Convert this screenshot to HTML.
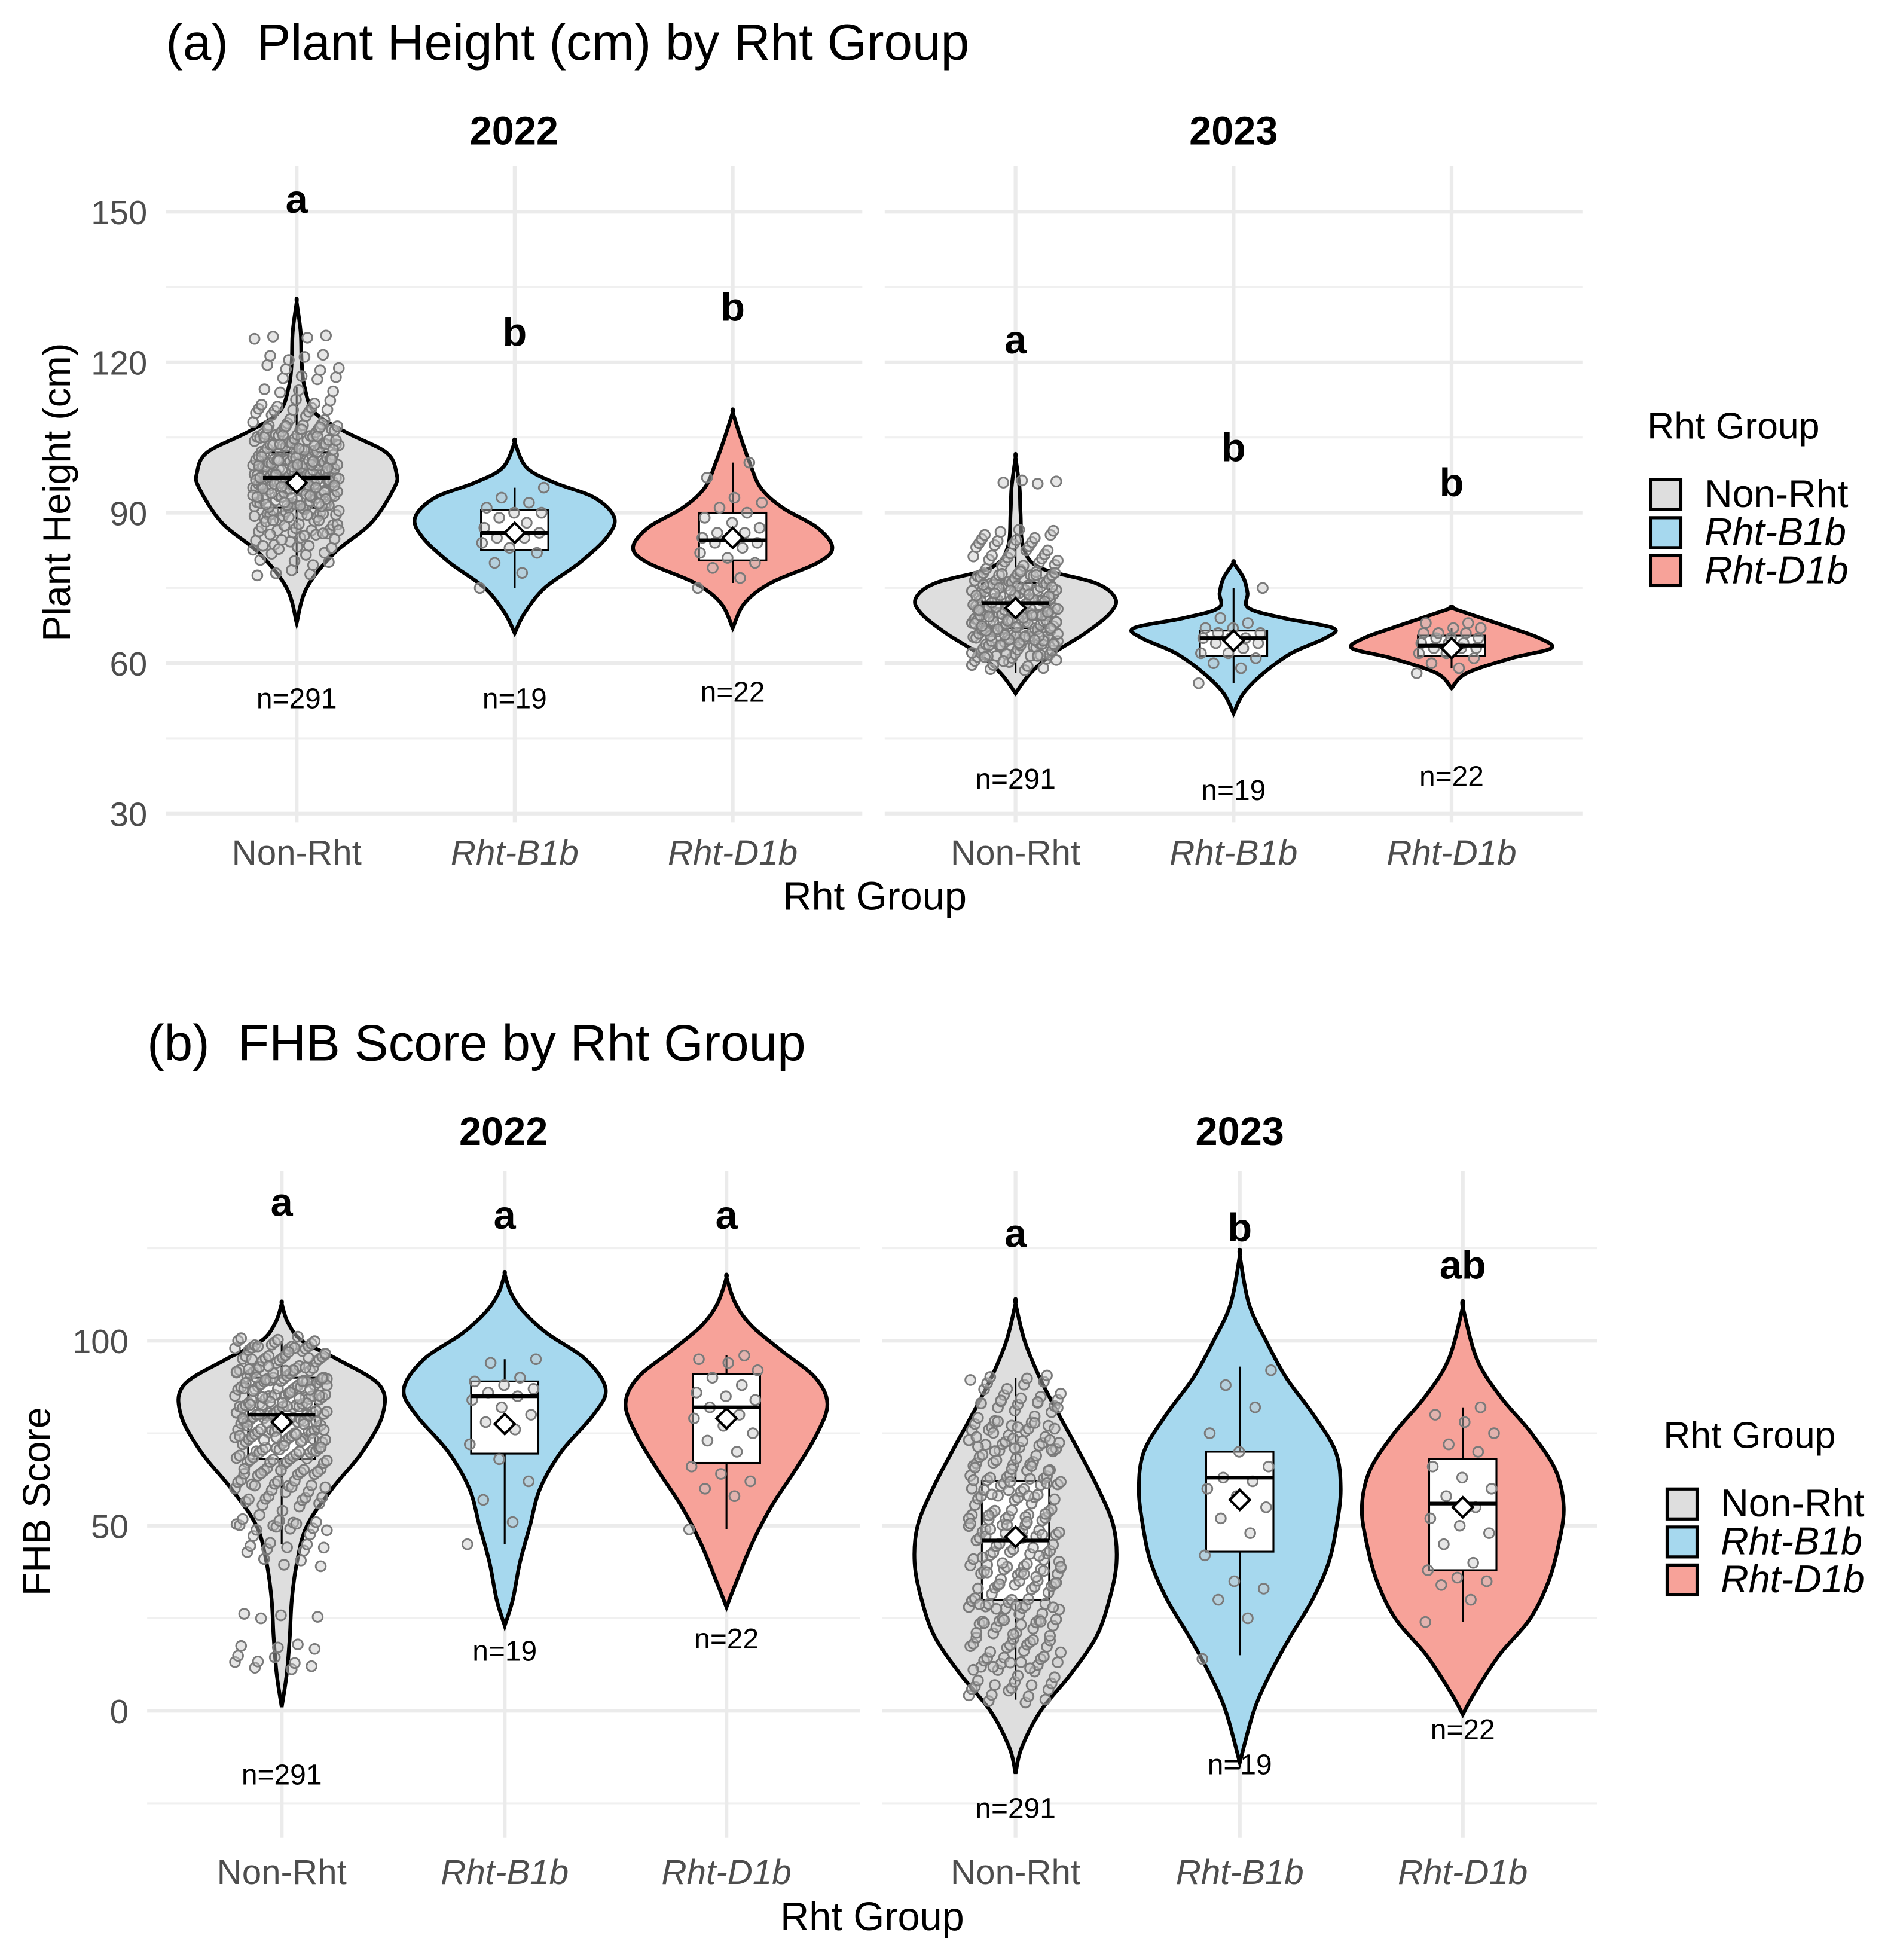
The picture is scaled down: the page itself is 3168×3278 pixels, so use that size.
<!DOCTYPE html>
<html><head><meta charset="utf-8">
<style>
html,body{margin:0;padding:0;background:#fff;}
svg{display:block;font-family:"Liberation Sans",sans-serif;}
</style></head>
<body>
<svg id="chart" width="3168" height="3278" viewBox="0 0 1520 1573" xmlns="http://www.w3.org/2000/svg">
<g id="root"></g>
</svg>
<script>
// ---------- data ----------
const categories = ["Non-Rht","Rht-B1b","Rht-D1b"];
const years = ["2022","2023"];
const nCounts = [291,19,22];
const groupColors = ["#dedede","#a6d8ee","#f7a299"];

const aViolin2022 = [
 [[68,0],[75,.1],[82,.38],[88,.75],[95,.98],[98,1],[102,.9],[106,.5],[110,.18],[115,.08],[120,.05],[126,.04],[132,0]],
 [[66,0],[70,.1],[75,.3],[80,.65],[85,.92],[89,1],[93,.8],[96,.4],[99,.12],[104,0]],
 [[67,0],[72,.12],[76,.38],[80,.85],[83,1],[87,.85],[91,.5],[95,.28],[100,.17],[105,.08],[110,0]]
];
const aViolin2023 = [
 [[54,0],[58,.15],[62,.38],[66,.7],[70,.95],[73,1],[76,.8],[79,.25],[83,.08],[90,.05],[95,.04],[101,0]],
 [[50,0],[54,.1],[58,.3],[62,.58],[65,.92],[67,1],[69,.5],[71,.15],[74,.14],[77,.1],[80,0]],
 [[55,0],[58,.15],[61,.6],[63,1],[65,.88],[67,.6],[69,.3],[71,0]]
];
const aBox2022 = [[78,91,97,102,115,96],[75,82.5,86,90.5,95,86],[76,80.5,84.5,90,100,85]];
const aBox2023 = [[58,67,72,76,86,71],[56,61.5,65,66.5,75,64.5],[59,61.5,63.5,65.5,67,63]];
const aLetters2022 = ["a","b","b"], aLetterY2022 = [152.5,126,131];
const aLetters2023 = ["a","b","b"], aLetterY2023 = [124.5,103,96];
const aNY2022 = [53,53,54.3], aNY2023 = [37,34.7,37.5];
const aPts2022 = [
 [82,84,86,87,88,89,90,90,91,92,92,93,93,94,94,95,95,96,96,96,97,97,97,98,98,98,99,99,99,100,100,100,101,101,102,102,103,103,104,104,105,105,106,106,107,108,109,110,111,112,114,117,119,121,125,78,80,83,85,88,91,94,96,99,101,103,105,107,86,89,93,97,100,95,92],
 [75,78,80,82,83,84,85,85,86,86,87,88,89,90,90,91,92,93,95],
 [75,77,79,80,81,82,83,84,84,85,85,86,86,87,88,89,90,91,92,93,97,100]
];
const aPts2023 = [
 [59,60,61,62,63,63,64,64,65,65,66,66,67,67,68,68,69,69,70,70,70,71,71,72,72,73,73,74,74,75,75,76,76,77,77,78,79,80,81,82,83,84,85,86,96,62,65,68,71,73,75,78,66,69,72,74,70,67,64,61],
 [56,59,60,61,62,62,63,64,64,65,65,65,66,66,67,67,68,69,75],
 [58,59,60,61,62,62,63,63,63,64,64,64,65,65,65,66,66,66,67,67,68,68]
];

const bViolin2022 = [
 [[1,0],[10,.05],[20,.08],[30,.1],[40,.15],[50,.25],[60,.5],[70,.8],[80,1],[88,.97],[95,.55],[100,.2],[105,.06],[110,0]],
 [[23,0],[30,.08],[40,.15],[50,.25],[60,.35],[70,.56],[80,.88],[87,1],[95,.8],[102,.42],[108,.18],[113,.06],[118,0]],
 [[28,0],[35,.1],[45,.25],[55,.44],[65,.68],[75,.9],[83,1],[90,.88],[97,.56],[104,.25],[110,.09],[117,0]]
];
const bViolin2023 = [
 [[-17,0],[-10,.06],[0,.25],[10,.55],[20,.8],[30,.93],[40,1],[50,.97],[60,.82],[70,.63],[80,.43],[90,.24],[100,.09],[110,0]],
 [[-14,0],[0,.14],[10,.3],[20,.5],[30,.72],[40,.88],[50,.96],[60,1],[70,.95],[80,.73],[90,.46],[100,.26],[110,.09],[123,0]],
 [[-1,0],[5,.12],[15,.36],[25,.67],[35,.85],[45,.95],[55,1],[65,.92],[75,.68],[85,.37],[95,.14],[109,0]]
];
const bBox2022 = [[45,68,80,90,100,78],[45,69.5,85,89,95,77.5],[49,67,82,91,96,79]];
const bBox2023 = [[3,30,46,62,90,47],[15,43,63,70,93,57],[24,38,56,68,82,55]];
const bLetters2022 = ["a","a","a"], bLetterY2022 = [137.4,134,134];
const bLetters2023 = ["a","b","ab"], bLetterY2023 = [129,130.6,120.5];
const bNY2022 = [-17.2,16.2,19.5], bNY2023 = [-26.3,-14.5,-5];
const bPts2022 = [
 [12,14,17,26,40,43,45,48,50,50,52,55,57,58,60,60,62,63,64,65,66,67,68,69,70,70,71,72,73,74,75,75,76,77,78,78,79,80,80,81,82,82,83,84,85,85,86,87,88,88,89,90,90,91,92,93,94,95,96,97,98,99,99,100,65,72,77,83,87,91,74,79,84,89,93,96],
 [45,51,57,62,68,72,76,78,80,82,84,85,86,87,88,89,90,94,95],
 [49,58,60,62,64,66,70,73,75,77,79,80,82,84,85,86,88,90,92,94,95,96]
];
const bPts2023 = [
 [3,5,6,8,10,12,14,15,17,18,20,22,24,25,27,28,30,31,33,34,36,37,39,40,42,43,45,46,48,49,51,52,54,55,57,58,60,61,63,64,66,67,69,70,72,73,75,76,78,80,82,84,86,88,90,12,20,28,35,41,47,53,59,65,71,77,83,24,38,50,62,74],
 [14,25,30,33,35,42,48,52,55,58,60,62,63,66,70,75,82,88,92],
 [24,30,34,35,36,38,40,45,48,50,52,55,58,60,63,66,70,72,75,78,80,82]
];
// draw copies per observation for the large group (overplotting density)
const copies = [4,1,1];

// ---------- drawing ----------
const NS="http://www.w3.org/2000/svg";
const root=document.getElementById('root');
function el(tag,attrs,parent,text){const e=document.createElementNS(NS,tag);for(const k in attrs)e.setAttribute(k,attrs[k]);if(text!==undefined)e.textContent=text;(parent||root).appendChild(e);return e;}

function panel(cfg){
  const g=el('g',{});
  
  
  const y=v=>cfg.y0+(v-cfg.v0)*cfg.k;
  const t=el('text',{x:cfg.titleX,y:cfg.titleY,'font-size':41,fill:'#000'},g,cfg.title);
  
  
  cfg.ticks.forEach(v=>{
    const tl=el('text',{x:cfg.tickX,y:y(v)+10,'font-size':27,fill:'#4d4d4d','text-anchor':'end'},g,String(v));
    
    
  });
  const yt=el('text',{x:0,y:0,'font-size':31,fill:'#000','text-anchor':'middle',transform:`translate(${cfg.yTitleX},${cfg.yTitleY}) rotate(-90)`},g,cfg.yTitle);
  
  
  const xt=el('text',{x:cfg.xTitleX,y:cfg.xTitleY,'font-size':32,fill:'#000','text-anchor':'middle'},g,'Rht Group');
  
  
  cfg.facets.forEach((f,fi)=>{
    const fg=el('g',{},g);
    
    
    const st=el('text',{x:(f.x0+f.x1)/2,y:cfg.stripY,'font-size':32,'font-weight':'bold','text-anchor':'middle'},fg,years[fi]);
    
    
    cfg.minor.forEach(v=>{const l=el('line',{x1:f.x0,x2:f.x1,y1:y(v),y2:y(v),stroke:'#f0f0f0','stroke-width':1.5},fg);});
    cfg.ticks.forEach(v=>{const l=el('line',{x1:f.x0,x2:f.x1,y1:y(v),y2:y(v),stroke:'#ebebeb','stroke-width':3},fg);});
    f.cx.forEach(cx=>{const l=el('line',{x1:cx,x2:cx,y1:cfg.gTop,y2:cfg.gBot,stroke:'#ebebeb','stroke-width':3},fg);});
    categories.forEach((c,ci)=>{
      const cx=f.cx[ci];
      const prof=f.violin[ci];
      let L=[],R=[];
      prof.forEach(([v,d])=>{R.push([cx+d*cfg.hw,y(v)]);L.push([cx-d*cfg.hw,y(v)]);});
      const pts=R.concat(L.reverse());
      let d='M'+pts[0][0]+','+pts[0][1];
      for(let i=0;i<pts.length-1;i++){
        const p0=pts[Math.max(0,i-1)],p1=pts[i],p2=pts[i+1],p3=pts[Math.min(pts.length-1,i+2)];
        d+=` C${p1[0]+(p2[0]-p0[0])/6},${p1[1]+(p2[1]-p0[1])/6} ${p2[0]-(p3[0]-p1[0])/6},${p2[1]-(p3[1]-p1[1])/6} ${p2[0]},${p2[1]}`;
      }
      d+='Z';
      const vp=el('path',{d:d,fill:groupColors[ci],stroke:'#000','stroke-width':3},fg);
      
      
      const b=f.box[ci];
      const wl=el('line',{x1:cx,x2:cx,y1:y(b[0]),y2:y(b[4]),stroke:'#000','stroke-width':1.5},fg);
      
      
      const bx=el('rect',{x:cx-27,width:54,y:y(b[3]),height:y(b[1])-y(b[3]),fill:'#fff',stroke:'#000','stroke-width':1.5},fg);
      
      
      const nc=copies[ci];
      f.pts[ci].forEach((v,i)=>{
        for(let r=0;r<nc;r++){
          const idx=i*nc+r;
          const jx=(((idx*37)%61)/61-0.5)*cfg.jit*(nc>1?1.25:1);
          const jy=nc>1?((((idx*53)%29)/29)-0.5)*cfg.yj:0;
          const p=el('circle',{cx:cx+jx,cy:y(v)+jy,r:4,fill:'rgba(200,200,200,0.45)',stroke:'#7a7a7a','stroke-width':1.4},fg);
          
          
        }
      });
      const md=el('line',{x1:cx-27,x2:cx+27,y1:y(b[2]),y2:y(b[2]),stroke:'#000','stroke-width':3},fg);
      
      
      const my=y(b[5]);
      const mn=el('path',{d:`M${cx},${my-8} L${cx+8},${my} L${cx},${my+8} L${cx-8},${my}Z`,fill:'#fff',stroke:'#000','stroke-width':2},fg);
      
      
      const lt=el('text',{x:cx,y:y(f.letterY[ci])+11,'font-size':32,'font-weight':'bold','text-anchor':'middle'},fg,f.letters[ci]);
      
      
      const nt=el('text',{x:cx,y:y(f.nY[ci])+8,'font-size':23,'text-anchor':'middle'},fg,'n='+nCounts[ci]);
      
      
      const xl=el('text',{x:cx,y:cfg.xLabY,'font-size':28,fill:'#4d4d4d','text-anchor':'middle','font-style':ci?'italic':'normal'},fg,c);
      
      
    });
  });
  const lg=el('g',{},g);
  
  
  const ltt=el('text',{x:cfg.legX-3,y:cfg.legY,'font-size':30},lg,'Rht Group');
  
  
  categories.forEach((c,ci)=>{
    const ky=cfg.legY+33+ci*30.5;
    const r=el('rect',{x:cfg.legX,y:ky,width:24,height:24,fill:groupColors[ci],stroke:'#000','stroke-width':2.5},lg);
    
    
    const tx=el('text',{x:cfg.legX+43,y:ky+22,'font-size':31,'font-style':ci?'italic':'normal'},lg,c);
    
    
  });
}

panel({name:'panel-a-plant-height',title:'(a)\u00a0 Plant Height (cm) by Rht Group',titleX:133,titleY:48,
  y0:653,v0:30,k:-4.025,ticks:[30,60,90,120,150],minor:[45,75,105,135],tickX:118,
  yTitle:'Plant Height (cm)',yTitleX:56,yTitleY:395,xTitleX:702,xTitleY:730,stripY:116,
  gTop:133,gBot:660,hw:80,jit:56,yj:5,xLabY:694,legX:1325,legY:352,
  facets:[
   {x0:133,x1:692,cx:[238,413,588],violin:aViolin2022,box:aBox2022,pts:aPts2022,letters:aLetters2022,letterY:aLetterY2022,nY:aNY2022},
   {x0:710,x1:1270,cx:[815,990,1165],violin:aViolin2023,box:aBox2023,pts:aPts2023,letters:aLetters2023,letterY:aLetterY2023,nY:aNY2023}
  ]});
panel({name:'panel-b-fhb-score',title:'(b)\u00a0 FHB Score by Rht Group',titleX:118,titleY:851,
  y0:1373,v0:0,k:-2.97,ticks:[0,50,100],minor:[-25,25,75,125],tickX:103,
  yTitle:'FHB Score',yTitleX:40,yTitleY:1205,xTitleX:700,xTitleY:1549,stripY:919,
  gTop:940,gBot:1475,hw:81,jit:60,yj:7,xLabY:1512,legX:1338,legY:1162,
  facets:[
   {x0:118,x1:690,cx:[226,405,583],violin:bViolin2022,box:bBox2022,pts:bPts2022,letters:bLetters2022,letterY:bLetterY2022,nY:bNY2022},
   {x0:708,x1:1282,cx:[815,995,1174],violin:bViolin2023,box:bBox2023,pts:bPts2023,letters:bLetters2023,letterY:bLetterY2023,nY:bNY2023}
  ]});
</script>
</body></html>
